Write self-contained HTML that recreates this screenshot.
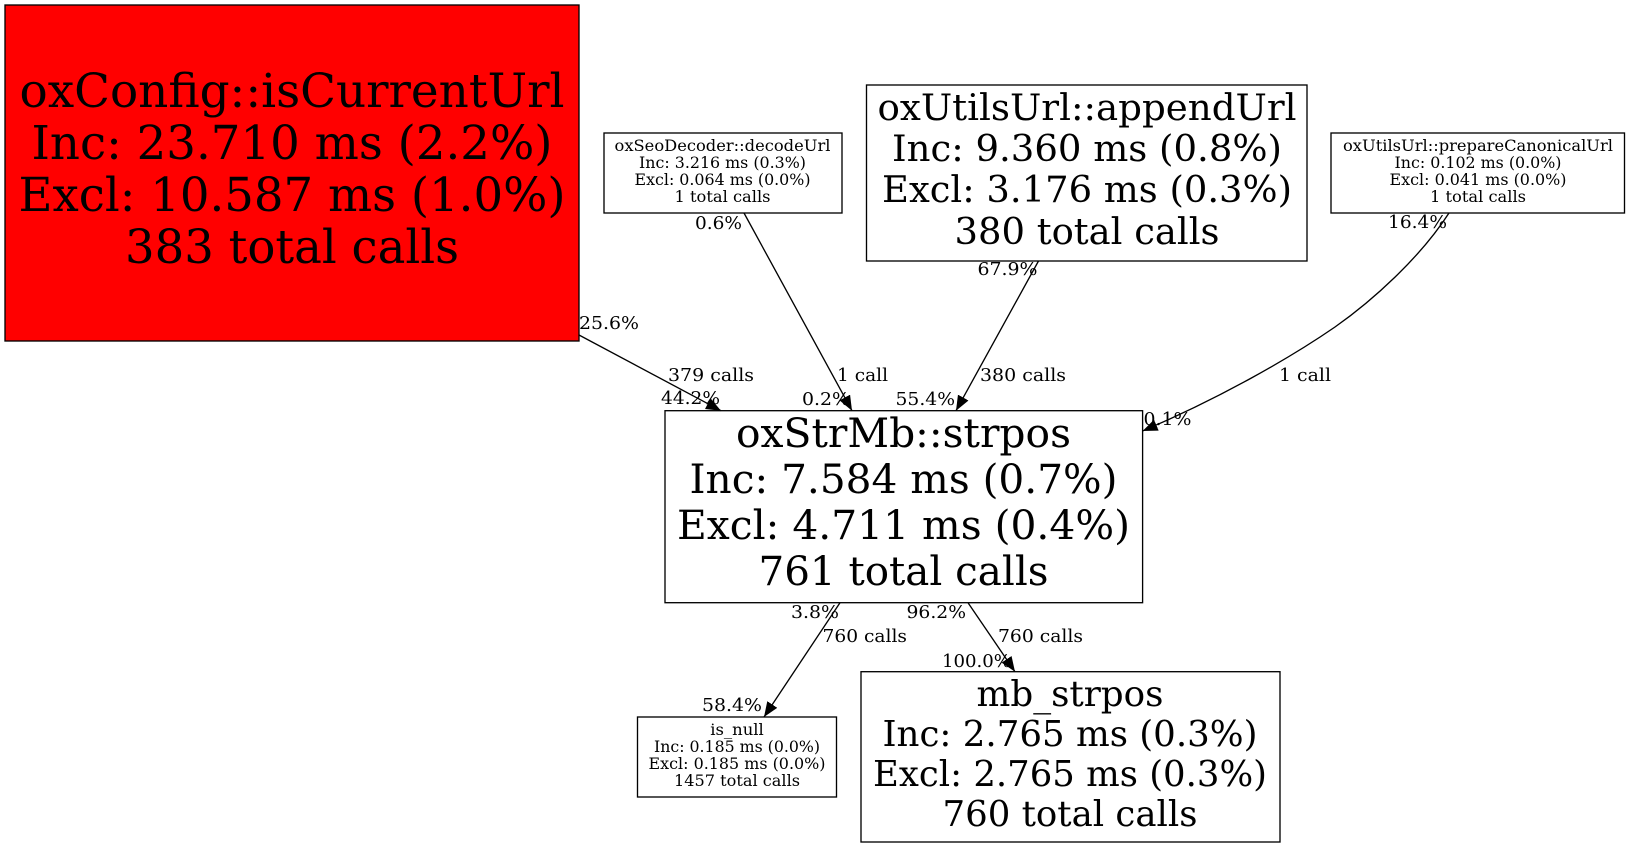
<!DOCTYPE html>
<html>
<head>
<meta charset="utf-8">
<style>
html,body{margin:0;padding:0;background:#fff}
svg{display:block}
text{font-family:"DejaVu Serif","Liberation Serif",serif;fill:#000}
.n text{text-anchor:middle}
.e text{font-size:18px}
rect{stroke:#000;stroke-width:1.33}
path.l{fill:none;stroke:#000;stroke-width:1.33}
</style>
</head>
<body>
<svg width="1629" height="848" viewBox="0 0 1629 848" xmlns="http://www.w3.org/2000/svg">
<defs>
<marker id="a" markerUnits="userSpaceOnUse" markerWidth="17" markerHeight="14" refX="15" refY="6" orient="auto"><path d="M0,0 L15,6 L0,12 Z" fill="#000"/></marker>
</defs>
<g class="n">
<rect x="5" y="5" width="574" height="336" fill="#f00"/>
<g font-size="46.7">
<text x="292" y="107" textLength="545" lengthAdjust="spacingAndGlyphs">oxConfig::isCurrentUrl</text>
<text x="292" y="159" textLength="521" lengthAdjust="spacingAndGlyphs">Inc: 23.710 ms (2.2%)</text>
<text x="292" y="211" textLength="547" lengthAdjust="spacingAndGlyphs">Excl: 10.587 ms (1.0%)</text>
<text x="292" y="263" textLength="334" lengthAdjust="spacingAndGlyphs">383 total calls</text>
</g>
<rect x="604" y="133" width="238" height="80" fill="#fff"/>
<g font-size="16">
<text x="722.5" y="151" textLength="216" lengthAdjust="spacingAndGlyphs">oxSeoDecoder::decodeUrl</text>
<text x="722.5" y="168" textLength="167" lengthAdjust="spacingAndGlyphs">Inc: 3.216 ms (0.3%)</text>
<text x="722.5" y="185" textLength="176" lengthAdjust="spacingAndGlyphs">Excl: 0.064 ms (0.0%)</text>
<text x="722.5" y="202" textLength="96" lengthAdjust="spacingAndGlyphs">1 total calls</text>
</g>
<rect x="866.5" y="85" width="440.5" height="176" fill="#fff"/>
<g font-size="36">
<text x="1087" y="120" textLength="419" lengthAdjust="spacingAndGlyphs">oxUtilsUrl::appendUrl</text>
<text x="1087" y="161" textLength="390" lengthAdjust="spacingAndGlyphs">Inc: 9.360 ms (0.8%)</text>
<text x="1087" y="202" textLength="410" lengthAdjust="spacingAndGlyphs">Excl: 3.176 ms (0.3%)</text>
<text x="1087" y="244" textLength="265" lengthAdjust="spacingAndGlyphs">380 total calls</text>
</g>
<rect x="1331" y="133" width="293.5" height="80" fill="#fff"/>
<g font-size="16">
<text x="1478" y="151" textLength="270" lengthAdjust="spacingAndGlyphs">oxUtilsUrl::prepareCanonicalUrl</text>
<text x="1478" y="168" textLength="167" lengthAdjust="spacingAndGlyphs">Inc: 0.102 ms (0.0%)</text>
<text x="1478" y="185" textLength="177" lengthAdjust="spacingAndGlyphs">Excl: 0.041 ms (0.0%)</text>
<text x="1478" y="202" textLength="96" lengthAdjust="spacingAndGlyphs">1 total calls</text>
</g>
<rect x="665" y="410.7" width="477.6" height="192" fill="#fff"/>
<g font-size="40.5">
<text x="903.5" y="447" textLength="335" lengthAdjust="spacingAndGlyphs">oxStrMb::strpos</text>
<text x="903.5" y="493" textLength="428" lengthAdjust="spacingAndGlyphs">Inc: 7.584 ms (0.7%)</text>
<text x="903.5" y="539" textLength="453" lengthAdjust="spacingAndGlyphs">Excl: 4.711 ms (0.4%)</text>
<text x="903.5" y="585" textLength="290" lengthAdjust="spacingAndGlyphs">761 total calls</text>
</g>
<rect x="637.5" y="717" width="199" height="80" fill="#fff"/>
<g font-size="16">
<text x="737" y="735" textLength="53.5" lengthAdjust="spacingAndGlyphs">is_null</text>
<text x="737" y="752" textLength="166" lengthAdjust="spacingAndGlyphs">Inc: 0.185 ms (0.0%)</text>
<text x="737" y="769" textLength="177" lengthAdjust="spacingAndGlyphs">Excl: 0.185 ms (0.0%)</text>
<text x="737" y="786" textLength="126" lengthAdjust="spacingAndGlyphs">1457 total calls</text>
</g>
<rect x="861" y="671.7" width="419" height="170.3" fill="#fff"/>
<g font-size="35.5">
<text x="1070" y="706" textLength="187" lengthAdjust="spacingAndGlyphs">mb_strpos</text>
<text x="1070" y="746" textLength="375" lengthAdjust="spacingAndGlyphs">Inc: 2.765 ms (0.3%)</text>
<text x="1070" y="786" textLength="394" lengthAdjust="spacingAndGlyphs">Excl: 2.765 ms (0.3%)</text>
<text x="1070" y="826" textLength="255" lengthAdjust="spacingAndGlyphs">760 total calls</text>
</g>
</g>
<path class="l" marker-end="url(#a)" d="M579,335 L721,410.7"/>
<path class="l" marker-end="url(#a)" d="M744,213 L852,410.7"/>
<path class="l" marker-end="url(#a)" d="M1038.5,261 L956,410.7"/>
<path class="l" marker-end="url(#a)" d="M1449,213 C1420,258 1372,301 1335,327 C1290,358 1220,398 1142.6,431"/>
<path class="l" marker-end="url(#a)" d="M840,602.7 L764,717"/>
<path class="l" marker-end="url(#a)" d="M968,602.7 L1015,671.7"/>
<g class="e">
<text x="579" y="329" textLength="60" lengthAdjust="spacingAndGlyphs">25.6%</text>
<text x="668" y="381" textLength="86" lengthAdjust="spacingAndGlyphs">379 calls</text>
<text x="661" y="404" textLength="59" lengthAdjust="spacingAndGlyphs">44.2%</text>
<text x="695" y="229" textLength="47" lengthAdjust="spacingAndGlyphs">0.6%</text>
<text x="837" y="381" textLength="51" lengthAdjust="spacingAndGlyphs">1 call</text>
<text x="802" y="405" textLength="48" lengthAdjust="spacingAndGlyphs">0.2%</text>
<text x="895.5" y="405" textLength="59.5" lengthAdjust="spacingAndGlyphs">55.4%</text>
<text x="980" y="381" textLength="86" lengthAdjust="spacingAndGlyphs">380 calls</text>
<text x="977.5" y="275" textLength="60" lengthAdjust="spacingAndGlyphs">67.9%</text>
<text x="1388" y="228" textLength="59" lengthAdjust="spacingAndGlyphs">16.4%</text>
<text x="1279" y="381" textLength="52" lengthAdjust="spacingAndGlyphs">1 call</text>
<text x="1143.5" y="425" textLength="48" lengthAdjust="spacingAndGlyphs">0.1%</text>
<text x="791" y="618" textLength="48" lengthAdjust="spacingAndGlyphs">3.8%</text>
<text x="906.5" y="618" textLength="59.5" lengthAdjust="spacingAndGlyphs">96.2%</text>
<text x="822.5" y="642" textLength="84.5" lengthAdjust="spacingAndGlyphs">760 calls</text>
<text x="998" y="642" textLength="85" lengthAdjust="spacingAndGlyphs">760 calls</text>
<text x="942" y="667" textLength="69" lengthAdjust="spacingAndGlyphs">100.0%</text>
<text x="702" y="711" textLength="60" lengthAdjust="spacingAndGlyphs">58.4%</text>
</g>
</svg>
</body>
</html>
